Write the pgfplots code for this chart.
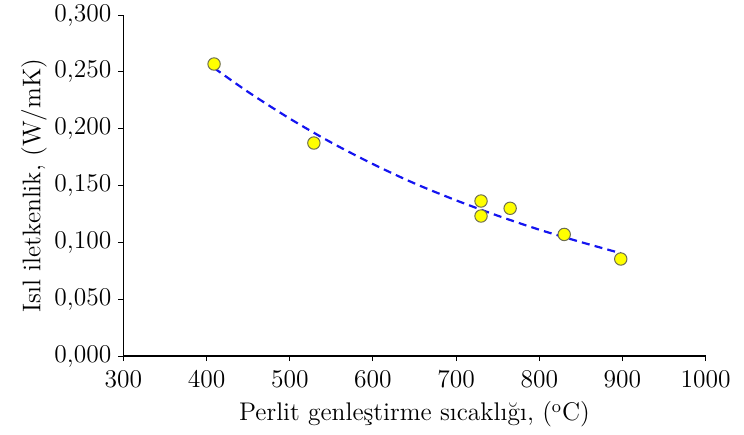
\documentclass[border=0pt]{standalone}
\usepackage{pgfplots}
\pgfplotsset{compat=1.18}
\definecolor{ptyellow}{RGB}{255,255,0}
\definecolor{ptedge}{RGB}{110,110,80}
\definecolor{trendblue}{RGB}{20,20,240}
\begin{document}
\begin{tikzpicture}
\begin{axis}[
  scale only axis,
  width=291bp, height=170.5bp,
  xmin=300, xmax=1000, ymin=0, ymax=0.3,
  axis lines*=left,
  axis line style={black, line width=0.6pt},
  xtick={300,400,...,1000},
  ytick={0,0.05,...,0.3},
  yticklabels={0{,}000,0{,}050,0{,}100,0{,}150,0{,}200,0{,}250,0{,}300},
  tick align=outside,
  tick style={black, line width=0.5pt},
  major tick length=2.5bp,
  font=\fontsize{12.8}{15}\selectfont,
  ticklabel style={font=\fontsize{12.8}{15}\selectfont},
  /pgf/number format/assume math mode=true,
  xticklabel style={/pgf/number format/1000 sep={}, yshift=-1bp},
  xlabel={Perlit genleştirme sıcaklığı, (\textsuperscript{o}C)},
  ylabel={Isıl iletkenlik, (W/mK)},
  xlabel style={yshift=0bp},
  ylabel style={yshift=-3bp},
  clip=false,
]
\addplot[trendblue, line width=1.1pt, dash pattern=on 4bp off 2.6bp, smooth] coordinates {
(409,0.2534) (450,0.2323) (500,0.2089) (550,0.1878) (600,0.1689) (650,0.1519)
(700,0.1370) (750,0.1235) (800,0.1112) (850,0.1003) (898,0.0905)
};
\addplot[only marks, mark=*, mark size=3.1bp, mark options={fill=ptyellow, draw=ptedge, line width=0.5pt}] coordinates {
(409,0.2569) (529,0.1874) (730,0.1364) (730,0.1232) (765,0.1300) (830,0.1070) (898,0.0854)
};
\end{axis}
\pgfresetboundingbox
\path ([xshift=-61.7bp,yshift=-39bp]current axis.south west) rectangle ([xshift=19.2bp,yshift=7.5bp]current axis.north east);
\end{tikzpicture}
\end{document}
